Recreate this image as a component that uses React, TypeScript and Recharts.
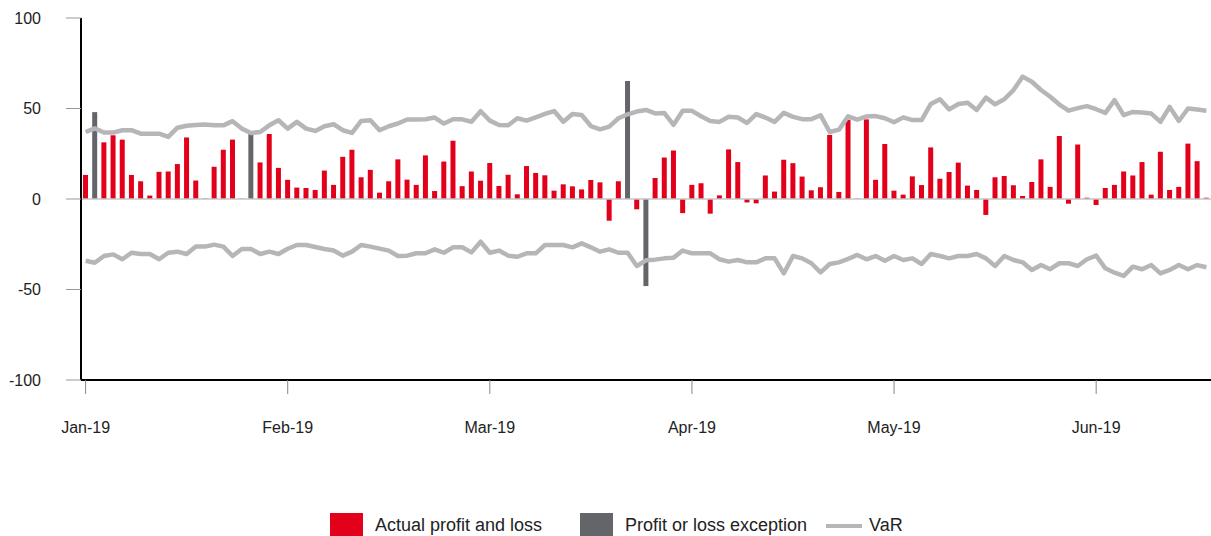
import React from 'react';
import { ComposedChart, Bar, Line, XAxis, YAxis, ReferenceLine } from 'recharts';

// Month labels shown every 22 trading days
const monthLabels = ['Jan-19', 'Feb-19', 'Mar-19', 'Apr-19', 'May-19', 'Jun-19'];

// Daily actual P&L (exception days held separately)
const actualPnl: (number | null)[] = [
  13.3, null, 31.3, 35.2, 32.8, 13.3, 9.8, 1.9, 15, 15.2,
  19.3, 34, 10.2, 0.3, 17.8, 27.2, 32.8, 0.2, null, 20.2,
  35.9, 17.2, 10.6, 6.3, 6.1, 5.0, 15.7, 7.8, 23.3, 27.2,
  12, 16.1, 3.5, 9.8, 21.9, 10.7, 7.8, 24.1, 4.4, 20.7,
  32.2, 7.1, 15.2, 10.1, 19.9, 7.2, 13.4, 2.6, 18.2, 14.4,
  13.1, 4.6, 8.1, 7.0, 5.3, 10.5, 9.2, -12, 9.8, null,
  -5.7, null, 11.6, 22.9, 26.8, -7.8, 7.8, 8.7, -8.1, 2.0,
  27.4, 20.4, -1.9, -2.4, 13, 4.1, 21.7, 19.8, 12.4, 4.8,
  6.5, 35.4, 3.9, 43.8, 0.2, 44, 10.6, 30.4, 4.6, 2.4,
  12.5, 7.7, 28.5, 11.2, 14.9, 20.1, 7.4, 5.0, -8.8, 12.0,
  12.7, 7.6, 1.7, 9.4, 21.9, 6.7, 34.8, -2.6, 30.1, 0.7,
  -3.3, 6.1, 7.8, 15.2, 13.0, 20.4, 2.4, 26.1, 5.0, 6.7,
  30.6, 20.9, 0.7,
];

// Days where P&L exceeded VaR
const exceptionPnl: (number | null)[] = actualPnl.map(() => null);
exceptionPnl[1] = 48;
exceptionPnl[18] = 36.5;
exceptionPnl[59] = 65.2;
exceptionPnl[61] = -48.1;

const varUpper = [
  37, 39, 36.7, 36.7, 38, 38, 36.1, 36.1, 36.1, 34.3,
  39.4, 40.5, 40.9, 41.1, 40.7, 40.7, 43, 38.9, 36.5, 37,
  40.7, 43.5, 38.9, 42.6, 38.9, 37.6, 40.2, 41.3, 38, 36.5,
  43.1, 43.5, 38, 40.2, 41.7, 43.9, 43.9, 44.1, 45, 41.7,
  44.1, 44, 42.7, 48.5, 43.3, 40.9, 40.7, 44.6, 43.3, 45.1,
  47, 48.6, 42.7, 47, 46.4, 40.3, 38.5, 40, 44.6, 46.8,
  48.3, 49.2, 47.3, 47.5, 41, 48.7, 48.7, 45.7, 43.1, 42.6,
  45.4, 45, 42, 46.9, 45, 42.6, 47.6, 45.4, 44.1, 44.1,
  46.3, 37, 38.3, 45.7, 43.9, 45.6, 45.8, 44.6, 42.4, 45.1,
  43.6, 43.6, 52.5, 55.1, 49.5, 52.5, 53.2, 49.2, 56, 52.3,
  55.1, 60.2, 67.6, 64.8, 60.2, 56.5, 52.2, 48.8, 50.2, 51.3,
  49.6, 47.6, 54.6, 46.3, 48.1, 47.8, 47.2, 42.6, 50.9, 43.1,
  50, 49.4, 48.7,
];

const varLower = [
  -34.1, -35.2, -31.5, -30.6, -33.3, -29.7, -30.4, -30.4, -33.3, -29.7,
  -29.1, -30.4, -26.3, -26.3, -25.2, -26.3, -31.5, -27.6, -27.6, -30.4,
  -29.1, -30.4, -27.5, -25.4, -25.4, -26.5, -27.6, -28.5, -31.3, -29.1,
  -25.4, -26.3, -27.4, -28.5, -31.5, -31.3, -30, -30, -27.8, -29.7,
  -26.7, -26.7, -29.5, -23.6, -29.7, -28.5, -31.3, -31.9, -30, -30,
  -25.4, -25.4, -25.4, -26.7, -24.5, -26.7, -29.1, -27.8, -29.7, -29.7,
  -37, -33.9, -33.5, -32.8, -32.4, -28.5, -30, -30, -30, -33.3,
  -34.6, -33.7, -35, -35, -32.8, -32.8, -41.1, -31.5, -32.8, -35.5,
  -40.5, -35.9, -35, -33.1, -30.9, -33.3, -31.5, -34.1, -31.5, -33.7,
  -32.8, -35.9, -30.4, -31.5, -32.8, -31.5, -31.5, -30.4, -32.8, -37,
  -31.5, -33.7, -35, -39.2, -36.5, -38.8, -35.5, -35.5, -37, -33.3,
  -31.3, -38.3, -40.7, -42.5, -37.4, -38.8, -36.5, -41.1, -39.2, -36.5,
  -38.8, -36.5, -37.7,
];

const yTicks = [-100, -50, 0, 50, 100];

const data = actualPnl.map((v, i) => ({
  day: i,
  actual: v,
  exception: exceptionPnl[i],
  varUp: varUpper[i],
  varDown: varLower[i],
}));

const RED = '#e2001a';
const DARK = '#636569';
const VAR_GREY = '#b6b5b8';
const font = '"Liberation Sans", Arial, sans-serif';

const App = () => {
  return (
    <div style={{ position: 'absolute', left: 0, top: 0, width: 1211, height: 536, overflow: 'hidden', background: '#fff', fontFamily: font }}>
      <ComposedChart width={1211} height={536} data={data} margin={{ top: 18, right: 0, bottom: 96, left: 0 }} barCategoryGap={0}>
        <XAxis
          dataKey="day"
          type="category"
          interval={21}
          tickFormatter={(i: number) => (i % 22 === 0 ? monthLabels[i / 22] : '')}
          axisLine={{ stroke: '#000', strokeWidth: 2 }}
          tickLine={{ stroke: '#888' }}
          tickSize={14}
          tickMargin={28}
          height={60}
          tick={{ fontSize: 16, fill: '#222', fontFamily: font }}
        />
        <YAxis
          domain={[-100, 100]}
          ticks={yTicks}
          width={81}
          axisLine={{ stroke: '#000', strokeWidth: 2 }}
          tickLine={{ stroke: '#999' }}
          tickSize={15}
          tickMargin={25}
          tick={{ fontSize: 16, fill: '#222', fontFamily: font }}
        />
        <ReferenceLine y={0} stroke="#c6c6c6" strokeWidth={1.5} />
        <Line dataKey="varUp" type="linear" stroke={VAR_GREY} strokeWidth={4.5} dot={false} isAnimationActive={false} strokeLinejoin="round" />
        <Line dataKey="varDown" type="linear" stroke={VAR_GREY} strokeWidth={4.5} dot={false} isAnimationActive={false} strokeLinejoin="round" />
        <Bar dataKey="actual" stackId="pnl" fill={RED} barSize={5} isAnimationActive={false} />
        <Bar dataKey="exception" stackId="pnl" fill={DARK} barSize={5} isAnimationActive={false} />
      </ComposedChart>

      {/* Legend */}
      <div style={{ position: 'absolute', left: 330, top: 513, width: 33, height: 30, background: RED }} />
      <div style={{ position: 'absolute', left: 375, top: 515, fontSize: 18, color: '#222', whiteSpace: 'nowrap' }}>Actual profit and loss</div>
      <div style={{ position: 'absolute', left: 580, top: 513, width: 33, height: 30, background: DARK }} />
      <div style={{ position: 'absolute', left: 625, top: 515, fontSize: 18, color: '#222', whiteSpace: 'nowrap' }}>Profit or loss exception</div>
      <div style={{ position: 'absolute', left: 826, top: 524, width: 36, height: 4, background: VAR_GREY }} />
      <div style={{ position: 'absolute', left: 869, top: 515, fontSize: 18, color: '#222', whiteSpace: 'nowrap' }}>VaR</div>
    </div>
  );
};

export default App;
